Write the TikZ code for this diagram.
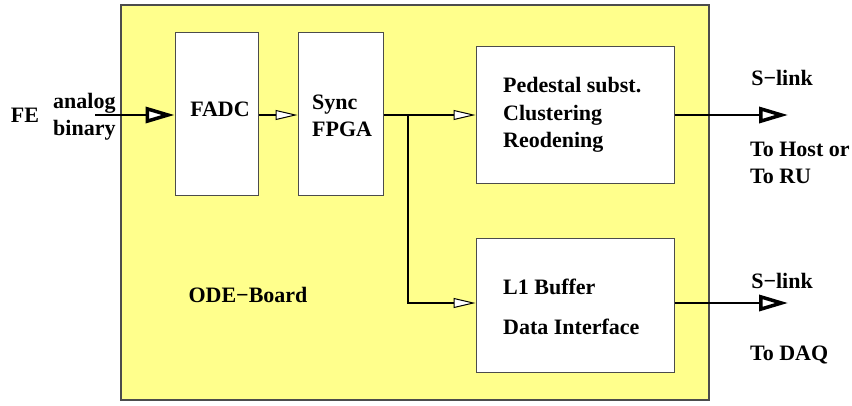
\documentclass[tikz,border=0pt]{standalone}
\usepackage{fontspec}
\setmainfont{Liberation Serif}
\usetikzlibrary{arrows.meta}
\definecolor{boardyellow}{RGB}{255,255,140}
\tikzset{
  lbl/.style={font=\bfseries\fontsize{22}{27}\selectfont, inner sep=0pt, align=left},
  block/.style={draw=black!70, fill=white, line width=1pt, inner sep=0pt},
  wire/.style={line width=1.3pt},
  smalltip/.style={-{Triangle[fill=white,length=22pt,width=10pt,line width=1pt]}},
  bigtip/.style={-{Triangle[fill=white,length=29pt,width=16pt,line width=3.5pt]}}
}
\begin{document}
\begin{tikzpicture}[x=1pt,y=-1pt]
\useasboundingbox (0,0) rectangle (852,405);
% board
\node[draw=black!70, fill=boardyellow, line width=1.3pt, minimum width=588pt, minimum height=395pt, inner sep=0pt]
  (board) at (415,202.5) {};
% processing blocks
\node[block, minimum width=83pt, minimum height=163pt] (fadc) at (216.5,113.5) {};
\node[block, minimum width=85pt, minimum height=163pt] (sync) at (340.5,113.5) {};
\node[block, minimum width=198pt, minimum height=137pt] (ped) at (575,114.5) {};
\node[block, minimum width=198pt, minimum height=134pt] (lone) at (575,305) {};
% texts
\node[lbl] (fe) at (25,115) {FE};
\node[lbl, anchor=west] (fetype) at (53,116.5) {analog\\binary};
\node[lbl] (fadctxt) at (220,109) {FADC};
\node[lbl, anchor=west] (synctxt) at (312,115.5) {Sync\\FPGA};
\node[lbl, anchor=west, font=\bfseries\fontsize{22}{27.5}\selectfont] (pedtxt) at (503,115) {Pedestal subst.\\Clustering\\Reodening};
\node[lbl, anchor=west] (lonea) at (503,287) {L1 Buffer};
\node[lbl, anchor=west] (loneb) at (503,327) {Data Interface};
\node[lbl] (odeb) at (248,295) {ODE−Board};
\node[lbl] (slinka) at (782,78) {S−link};
\node[lbl, anchor=west] (host) at (750,162.5) {To Host or\\To RU};
\node[lbl] (slinkb) at (782,281) {S−link};
\node[lbl, anchor=west] (daq) at (750,355) {To DAQ};
% connection points
\coordinate (fein) at (95,115);
\coordinate (branch) at (408,115);
\coordinate (outa) at (788,115);
\coordinate (outb) at (788,303);
% connectors
\draw[wire, bigtip] (fein) -- (fadc.west |- fein);
\draw[wire, smalltip] (fadc.east |- fein) -- (sync.west |- fein);
\draw[wire, smalltip] (sync.east |- fein) -- (ped.west |- fein);
\draw[wire, smalltip] (branch) |- (lone.west |- outb);
\draw[wire, bigtip] (ped.east |- outa) -- (outa);
\draw[wire, bigtip] (lone.east |- outb) -- (outb);
\end{tikzpicture}
\end{document}
